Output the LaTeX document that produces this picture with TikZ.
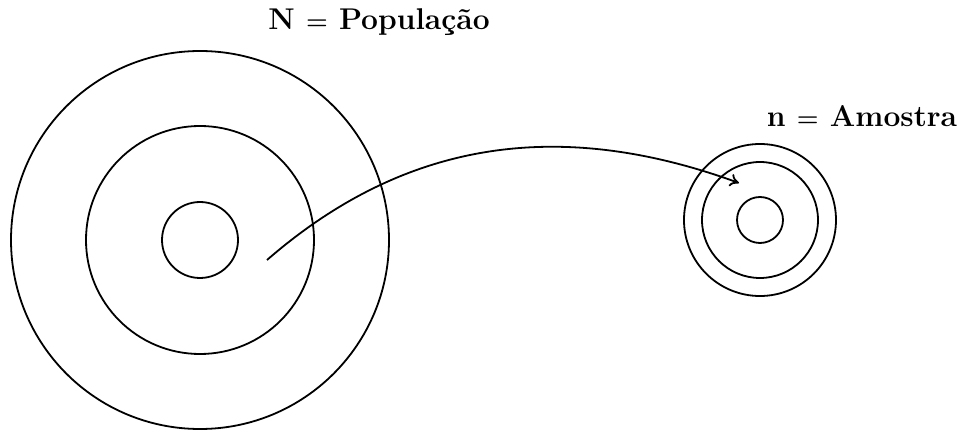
\documentclass[tikz,border=0pt]{standalone}
\usetikzlibrary{arrows.meta}
\begin{document}
\begin{tikzpicture}[x=1pt,y=1pt,
  ring/.style={draw,circle,line width=1.8pt,inner sep=0pt},
  lbl/.style={font=\fontsize{30}{34}\selectfont\boldmath\bfseries,inner sep=0pt}]
\useasboundingbox (0,0) rectangle (964,434);
\node[ring,minimum size=378pt] (bigA) at (200,194) {};
\node[ring,minimum size=228pt] (bigB) at (200,194) {};
\node[ring,minimum size=76pt] (bigC) at (200,194) {};
\node[ring,minimum size=152pt] (smA) at (760,214) {};
\node[ring,minimum size=116pt] (smB) at (760,214) {};
\node[ring,minimum size=46pt] (smC) at (760,214) {};
\coordinate (st) at (267,174);
\coordinate (en) at (739,251);
\draw[line width=1.8pt,-{Computer Modern Rightarrow[length=9pt,width=13pt]}] (st) to[out=41,in=160] (en);
\node[lbl] (N) at (379,412) {N $=$ População};
\node[lbl] (n) at (862,318) {n $=$ Amostra};
\end{tikzpicture}
\end{document}
